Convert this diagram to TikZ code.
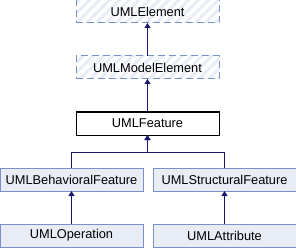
\documentclass[tikz,border=0pt]{standalone}
\usepackage{fontspec}
\setmainfont{Liberation Sans}
\usepackage{xcolor}
\definecolor{boxfill}{RGB}{232, 236, 245}
\definecolor{boxline}{RGB}{122, 144, 200}
\definecolor{hatchcol}{RGB}{231, 236, 246}
\definecolor{edgecol}{RGB}{25, 25, 112}
\usepackage{tikz}
\usetikzlibrary{positioning, arrows.meta, patterns.meta}

\begin{document}
\begin{tikzpicture}[x=1pt, y=1pt, node distance=33pt and 10pt]
  \useasboundingbox (0,0) rectangle (296,-248);
  \tikzset{
    classbox/.style={minimum width=143pt, minimum height=23pt,
      inner sep=0pt, outer sep=0pt, line width=1pt,
      font=\fontsize{12.8}{15}\selectfont},
    umlclass/.style={classbox, fill=boxfill, draw=boxline},
    undoc/.style={classbox, draw=boxline, dash pattern=on 7pt off 4pt,
      pattern={Lines[angle=45, distance=7pt, line width=3pt]},
      pattern color=hatchcol},
    current/.style={classbox, fill=white, draw=black},
    inherit/.style={{Triangle[length=5pt, width=6pt]}-, line width=1pt, color=edgecol}
  }
  \node[undoc] (elem) at (147.5,-11.5) {UMLElement};
  \node[undoc, below=of elem] (model) {UMLModelElement};
  \node[current, below=of model] (feat) {UMLFeature};
  \node[umlclass, below=of feat, xshift=-76pt] (behav) {UMLBehavioralFeature};
  \node[umlclass, right=of behav] (struct) {UMLStructuralFeature};
  \node[umlclass, below=of behav] (oper) {UMLOperation};
  \node[umlclass, below=of struct] (attr) {UMLAttribute};

  \draw[inherit] (elem) -- (model);
  \draw[inherit] (model) -- (feat);
  \draw[inherit] (feat.south) -- ++(0,-17) -| (behav.north);
  \draw[inherit] (feat.south) -- ++(0,-17) -| (struct.north);
  \draw[inherit] (behav) -- (oper);
  \draw[inherit] (struct) -- (attr);
\end{tikzpicture}
\end{document}
